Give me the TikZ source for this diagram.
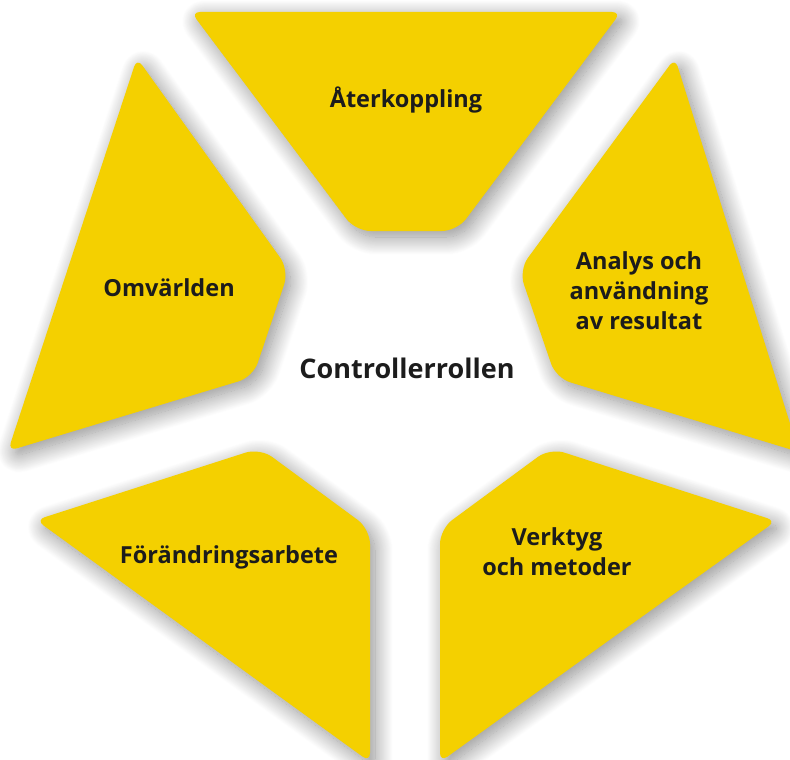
\documentclass[tikz,border=0pt]{standalone}
\usepackage{fontspec}
\setmainfont{Open Sans}
\usetikzlibrary{shadows.blur}
\definecolor{piece}{HTML}{F4D000}
\definecolor{ink}{HTML}{1C1C1C}
\begin{document}
\begin{tikzpicture}[x=1pt,y=-1pt,
  piecestyle/.style={fill=piece, blur shadow={shadow xshift=5pt,shadow yshift=-6pt,shadow blur radius=18pt,shadow blur steps=24,shadow opacity=45}},
  lbl/.style={font=\bfseries\fontsize{23.5}{30}\selectfont, text=ink, align=center, inner sep=0pt},
  centrelbl/.style={font=\bfseries\fontsize{27}{32}\selectfont, text=ink, align=center, inner sep=0pt}]
\useasboundingbox (0,0) rectangle (790,760);
\clip (0,0) rectangle (790,760);
% corner coordinates
\coordinate (T1) at (191,12);   \coordinate (T2) at (621,12);
\coordinate (T3) at (457,231);  \coordinate (T4) at (355.5,231);
\coordinate (L1) at (137,58);   \coordinate (L2) at (289,270);
\coordinate (L3) at (253,377);  \coordinate (L4) at (8,451);
\coordinate (R1) at (675,58);   \coordinate (R2) at (519,270);
\coordinate (R3) at (556,378);  \coordinate (R4) at (799,452);
\coordinate (BL1) at (36,520);  \coordinate (BL2) at (260,448);
\coordinate (BL3) at (370,529); \coordinate (BL4) at (370,762);
\coordinate (BR1) at (776,521); \coordinate (BR2) at (550,448);
\coordinate (BR3) at (440,529); \coordinate (BR4) at (440,762);
% pieces
\path[piecestyle] (406,12) [rounded corners=9pt] -- (T2) [rounded corners=15pt] -- (T3) -- (T4) [rounded corners=9pt] -- (T1) -- cycle;
\path[piecestyle] (72.5,254.5) [rounded corners=9pt] -- (L1) [rounded corners=15pt] -- (L2) -- (L3) [rounded corners=9pt] -- (L4) -- cycle;
\path[piecestyle] (737,255) [rounded corners=9pt] -- (R1) [rounded corners=15pt] -- (R2) -- (R3) [rounded corners=9pt] -- (R4) -- cycle;
\path[piecestyle] (203,641) [rounded corners=9pt] -- (BL1) [rounded corners=15pt] -- (BL2) -- (BL3) [rounded corners=9pt] -- (BL4) -- cycle;
\path[piecestyle] (608,641) [rounded corners=9pt] -- (BR1) [rounded corners=15pt] -- (BR2) -- (BR3) [rounded corners=9pt] -- (BR4) -- cycle;
% labels
\node[lbl] (aterk) at (406,100) {Återkoppling};
\node[lbl] (omv) at (169,288) {Omvärlden};
\node[lbl] (analys) at (639,291) {Analys och\\användning\\av resultat};
\node[lbl] (forand) at (229,557) {Förändringsarbete};
\node[lbl] (verkt) at (557,552) {Verktyg\\och metoder};
\node[centrelbl] (ctrl) at (407,368) {Controllerrollen};
\end{tikzpicture}
\end{document}
